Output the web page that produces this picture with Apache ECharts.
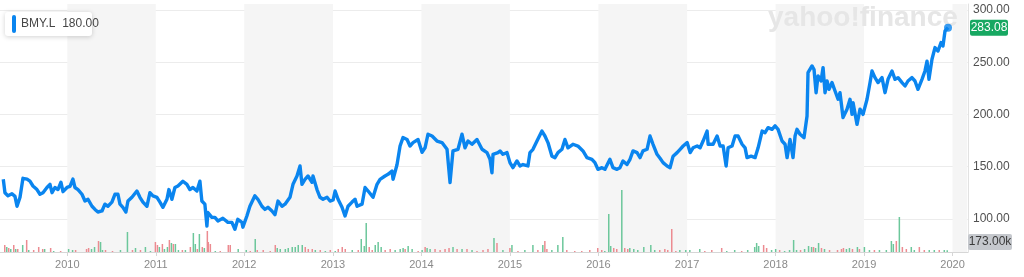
<!DOCTYPE html>
<html>
<head>
<meta charset="utf-8">
<script src="https://cdn.jsdelivr.net/npm/echarts@6/dist/echarts.min.js"></script>
<style>html,body{margin:0;padding:0;background:#fff}#c{width:1024px;height:277px}</style>
</head>
<body>
<div id="c"></div>
<script>
// ---- DATA ----
const ticker = 'BMY.L';
const legendValue = '180.00';
const lastPriceLabel = '283.08';
const lastVolumeLabel = '173.00k';
const priceTicks = [100, 150, 200, 250, 300];
const shadedYears = [2010, 2012, 2014, 2016, 2018, 2020];

// observation times as decimal years
const priceYears = [
2009.285,2009.304,2009.338,2009.383,2009.417,2009.440,2009.474,2009.507,2009.553,2009.586,
2009.620,2009.665,2009.699,2009.733,2009.778,2009.812,2009.835,2009.868,2009.902,2009.936,
2009.959,2010.004,2010.038,2010.071,2010.094,2010.128,2010.173,2010.207,2010.241,2010.286,
2010.320,2010.353,2010.399,2010.432,2010.466,2010.511,2010.545,2010.579,2010.602,2010.635,
2010.669,2010.692,2010.737,2010.793,2010.827,2010.861,2010.906,2010.940,2010.974,2011.019,
2011.053,2011.087,2011.132,2011.154,2011.188,2011.222,2011.256,2011.312,2011.357,2011.391,
2011.425,2011.470,2011.504,2011.526,2011.560,2011.583,2011.594,2011.639,2011.673,2011.707,
2011.763,2011.820,2011.865,2011.899,2011.932,2011.978,2011.989,2012.034,2012.068,2012.124,
2012.158,2012.203,2012.237,2012.271,2012.316,2012.350,2012.384,2012.429,2012.463,2012.519,
2012.553,2012.598,2012.632,2012.654,2012.688,2012.722,2012.767,2012.778,2012.823,2012.857,
2012.891,2012.936,2012.970,2013.004,2013.027,2013.060,2013.105,2013.139,2013.173,2013.218,
2013.252,2013.275,2013.331,2013.365,2013.399,2013.455,2013.500,2013.534,2013.590,2013.624,
2013.669,2013.681,2013.726,2013.760,2013.793,2013.839,2013.872,2013.906,2013.963,2014.008,
2014.042,2014.075,2014.121,2014.177,2014.233,2014.290,2014.324,2014.357,2014.414,2014.459,
2014.493,2014.527,2014.572,2014.628,2014.685,2014.741,2014.775,2014.797,2014.809,2014.865,
2014.888,2014.921,2014.967,2015.000,2015.034,2015.079,2015.113,2015.147,2015.203,2015.226,
2015.260,2015.305,2015.361,2015.395,2015.429,2015.474,2015.508,2015.542,2015.587,2015.621,
2015.655,2015.711,2015.767,2015.824,2015.869,2015.925,2015.959,2015.993,2016.038,2016.072,
2016.128,2016.162,2016.207,2016.241,2016.275,2016.320,2016.354,2016.388,2016.433,2016.467,
2016.500,2016.546,2016.579,2016.613,2016.658,2016.692,2016.726,2016.771,2016.805,2016.839,
2016.884,2016.918,2016.952,2016.997,2017.031,2017.064,2017.110,2017.143,2017.177,2017.222,
2017.234,2017.290,2017.335,2017.369,2017.403,2017.437,2017.459,2017.504,2017.538,2017.572,
2017.617,2017.651,2017.673,2017.719,2017.764,2017.798,2017.843,2017.876,2017.910,2017.955,
2017.989,2018.023,2018.068,2018.102,2018.125,2018.158,2018.192,2018.215,2018.237,2018.271,
2018.316,2018.350,2018.361,2018.406,2018.429,2018.452,2018.474,2018.508,2018.531,2018.553,
2018.576,2018.598,2018.632,2018.666,2018.700,2018.722,2018.756,2018.801,2018.835,2018.858,
2018.869,2018.914,2018.948,2018.982,2019.027,2019.061,2019.083,2019.117,2019.151,2019.196,
2019.230,2019.264,2019.309,2019.343,2019.377,2019.422,2019.456,2019.489,2019.534,2019.568,
2019.602,2019.647,2019.681,2019.704,2019.726,2019.760,2019.794,2019.828,2019.862,2019.884,
2019.907,2019.941
];
const priceValues = [
137.8,125,122,124,121.5,112,120.6,138.8,138,136,
131.4,128,123.5,125,130,133,125,130,128,135,
126,130,131,138,130,128,123.5,117,118.7,112,
109,106.5,107.5,114,112,116,123.5,123.5,114,111,
106.5,117,120.6,126.6,120.6,116,112,125,122,120.6,
116,111,118.7,128,118.7,130,131.4,136,133,128,
130,126.6,136,117,114,93,106,101.4,101.4,98,
100.5,96.6,96.6,90,99.5,96.6,92,102.7,112,122,
118.7,112,109,111,107.5,104,117,112,114,120.6,
133,141,150.6,133,137.8,141,135,141,128,120.6,
118.7,120.6,117,118,126.6,118.7,111,102.7,112,116,
118.7,112,114,130,126.6,120.6,133,137.8,141,142.6,
145.8,137.8,152,169.7,177.8,176,169.7,173,176,163.7,
168,181,179.3,174.5,173,166.6,134.7,165,166.6,181,
168,174.5,171.4,176,166.6,163.4,157,144,161.8,163.4,
165,161.8,163.4,153.8,149,155.4,150.6,152,150.6,163.4,
166.6,174.5,184,179.3,173,160,158.6,163.4,166.6,176,
168,171.4,169.7,165,158.6,157,153.8,147.4,149,147.4,
157,149,147.4,149,155.4,152,157,165,163.4,158.6,
165,166.6,179.3,171.4,161.8,158,153.8,150.6,149,160,
163.4,166.6,169.7,173,163.4,168,169.7,168,174.5,184,
171.4,171.4,179.3,169.7,169.7,150.6,168,169.7,179.3,179.3,
171.4,168,158.6,160,158.6,168,184,182.5,187.3,185.7,
189,185.7,174.5,171.4,158.6,176,158.6,179.3,185.7,181,
177.8,198.5,240,246.4,243,220.8,236.8,232,244.8,220.8,
232,224,230.5,222.4,214.5,220.8,197,205,214.5,200,
211.3,190.5,205,200,214.5,230.5,241.6,235.2,230.5,235.2,
220.8,233.6,241.6,233.6,235.2,230.5,227.2,232,235.2,232,
224,233.6,241.6,251,233.6,252.8,264,260.7,268.8,265.5,
279.9,283.08
];

// volume (thousands), with direction 1 = up (green), 0 = down (red)
const volumeYears = [
2009.293,2009.316,2009.338,2009.361,2009.395,2009.417,2009.440,2009.496,2009.541,2009.564,
2009.620,2009.677,2009.722,2009.744,2009.812,2009.846,2009.925,2010.015,2010.060,2010.094,
2010.218,2010.241,2010.274,2010.308,2010.353,2010.376,2010.398,2010.432,2010.511,2010.601,
2010.680,2010.737,2010.771,2010.827,2010.883,2010.940,2010.996,2011.019,2011.041,2011.075,
2011.098,2011.132,2011.154,2011.177,2011.199,2011.222,2011.256,2011.301,2011.335,2011.391,
2011.425,2011.447,2011.470,2011.493,2011.526,2011.549,2011.583,2011.594,2011.617,2011.673,
2011.729,2011.820,2011.842,2011.932,2012.023,2012.068,2012.124,2012.147,2012.214,2012.293,
2012.350,2012.372,2012.406,2012.463,2012.496,2012.541,2012.575,2012.609,2012.654,2012.688,
2012.722,2012.767,2012.801,2012.857,2012.914,2012.970,2013.026,2013.060,2013.105,2013.139,
2013.218,2013.286,2013.320,2013.354,2013.376,2013.410,2013.444,2013.478,2013.511,2013.545,
2013.590,2013.647,2013.703,2013.760,2013.793,2013.816,2013.850,2013.895,2013.963,2014.008,
2014.042,2014.064,2014.098,2014.154,2014.211,2014.267,2014.312,2014.357,2014.403,2014.459,
2014.515,2014.572,2014.628,2014.696,2014.752,2014.820,2014.854,2014.921,2015.000,2015.023,
2015.091,2015.169,2015.260,2015.316,2015.372,2015.395,2015.418,2015.474,2015.542,2015.598,
2015.643,2015.733,2015.812,2015.903,2015.993,2016.038,2016.072,2016.117,2016.139,2016.173,
2016.207,2016.264,2016.297,2016.331,2016.354,2016.399,2016.444,2016.512,2016.591,2016.635,
2016.692,2016.749,2016.782,2016.827,2016.873,2016.918,2016.985,2017.031,2017.143,2017.200,
2017.279,2017.391,2017.448,2017.538,2017.617,2017.685,2017.764,2017.786,2017.809,2017.865,
2017.899,2017.955,2018.001,2018.046,2018.102,2018.158,2018.204,2018.237,2018.282,2018.328,
2018.373,2018.407,2018.429,2018.452,2018.486,2018.519,2018.553,2018.610,2018.700,2018.745,
2018.767,2018.801,2018.835,2018.869,2018.925,2018.948,2019.004,2019.061,2019.117,2019.174,
2019.252,2019.309,2019.331,2019.365,2019.399,2019.433,2019.478,2019.534,2019.568,2019.625,
2019.681,2019.737,2019.794,2019.850,2019.907,2019.940
];
const volumeValues = [
700,500,400,300,700,300,300,700,1200,200,
200,500,300,300,400,100,100,300,200,200,
300,400,300,500,1100,1000,200,200,100,200,
2000,200,400,200,500,100,1000,700,500,800,
300,500,1200,900,800,800,200,200,200,500,
1900,800,300,1800,500,400,2100,1000,800,100,
100,700,700,300,200,100,1300,200,200,100,
700,400,300,300,400,500,500,700,700,500,
300,300,200,200,100,200,100,300,500,300,
200,200,1300,600,2900,500,200,700,1000,500,
200,300,200,300,400,300,600,300,100,200,
500,400,300,300,200,300,400,500,300,300,
300,200,100,200,300,1400,900,200,400,700,
100,200,700,200,700,1100,300,200,700,1500,
200,100,100,200,400,200,100,3800,600,400,
300,6200,400,300,400,300,200,500,700,200,
200,300,200,2300,100,200,200,200,300,100,
200,400,100,200,100,200,500,900,600,700,
400,200,300,200,100,200,1200,200,200,300,
600,500,500,400,900,400,300,200,200,300,
400,300,400,300,500,300,500,200,200,200,
200,1100,800,1100,3500,500,300,500,200,500,
200,200,200,200,200,173
];
const volumeUp = [
0,1,0,1,0,1,0,1,0,1,
0,0,0,1,0,1,0,1,1,0,
0,0,1,1,0,1,1,0,0,1,
1,0,1,0,1,1,0,0,1,0,
1,1,0,1,0,1,1,0,1,0,
1,1,0,1,0,1,0,0,0,1,
0,0,0,1,1,0,1,0,0,0,
0,1,1,1,1,1,1,1,1,0,
0,0,1,0,1,0,1,0,0,0,
1,0,1,1,1,0,0,1,1,1,
0,0,1,1,1,0,1,1,0,1,
0,1,1,0,0,0,0,1,0,1,
0,1,0,0,0,1,0,1,0,1,
0,1,1,0,1,0,0,1,1,1,
0,0,0,0,0,0,1,1,1,0,
0,1,0,0,1,1,1,1,1,1,
0,0,0,0,0,1,1,1,1,0,
0,0,1,1,0,1,1,1,1,0,
0,1,1,0,1,1,1,1,0,1,
1,1,0,1,1,0,1,0,0,0,
0,1,1,0,1,0,1,1,0,1,
1,1,1,0,1,0,0,1,1,0,
0,1,1,0,1,1
];

// ---- helpers ----
function yrToTs(y) {
  const Y = Math.floor(y);
  const a = Date.UTC(Y, 0, 1), b = Date.UTC(Y + 1, 0, 1);
  return a + (y - Y) * (b - a);
}
const xMin = yrToTs(2009.248);
const xMax = yrToTs(2020.166);
const priceData = priceYears.map((y, i) => [yrToTs(y), priceValues[i]]);
const volData = volumeYears.map((y, i) => ({
  value: [yrToTs(y), volumeValues[i]],
  itemStyle: { color: volumeUp[i] ? '#6cc79b' : '#ec8b91' }
}));
const shadeAreas = shadedYears.map(y => [
  { xAxis: Date.UTC(y, 0, 1) },
  { xAxis: Math.min(Date.UTC(y + 1, 0, 1), xMax) }
]);
const last = priceData[priceData.length - 1];

const FONT = '"Liberation Sans", Arial, sans-serif';
const chart = echarts.init(document.getElementById('c'), null, { renderer: 'canvas' });
const YEAR = 365.25 * 86400000;

const option = {
  useUTC: true,
  animation: false,
  grid: [
    { left: 0, right: 56, top: 4, bottom: 25 },
    { left: 0, right: 56, top: 10, height: 261 }
  ],
  xAxis: [
    {
      type: 'time', gridIndex: 0, min: xMin, max: xMax,
      minInterval: YEAR * 0.99, maxInterval: YEAR * 1.01,
      axisLine: { show: true, lineStyle: { color: '#d6d6d6' } },
      axisTick: { show: true, length: 4, lineStyle: { color: '#d6d6d6' } },
      axisLabel: {
        color: '#8a8a8a', fontSize: 11, fontFamily: FONT, margin: 7,
        formatter: v => String(new Date(v).getUTCFullYear())
      },
      splitLine: { show: false }
    },
    {
      type: 'time', gridIndex: 1, min: xMin, max: xMax, show: false,
      splitLine: { show: false }
    }
  ],
  yAxis: [
    {
      type: 'value', gridIndex: 0, position: 'right', min: 0, max: 24800,
      axisLine: { show: true, lineStyle: { color: '#e2e2e2' } },
      axisTick: { show: false }, axisLabel: { show: false }, splitLine: { show: false }
    },
    {
      type: 'value', gridIndex: 1, position: 'right', min: 50, max: 300, interval: 50,
      axisLine: { show: false }, axisTick: { show: false },
      axisLabel: {
        color: '#505050', fontSize: 12, fontFamily: FONT, margin: 5,
        formatter: v => (v < priceTicks[0] ? '' : v.toFixed(2))
      },
      splitLine: { show: true, showMinLine: false, lineStyle: { color: '#ececec', width: 1 } }
    }
  ],
  series: [
    {
      type: 'bar', xAxisIndex: 0, yAxisIndex: 0, data: volData, barWidth: 1.5, z: 2,
      markArea: {
        silent: true, itemStyle: { color: '#f5f5f5' }, label: { show: false },
        data: shadeAreas
      }
    },
    {
      type: 'line', xAxisIndex: 1, yAxisIndex: 1, data: priceData, z: 4,
      showSymbol: false, symbol: 'none', clip: false,
      lineStyle: { color: '#0a85ef', width: 3.4, join: 'round' }
    },
    {
      type: 'scatter', xAxisIndex: 1, yAxisIndex: 1, data: [last], z: 5,
      symbolSize: 8, itemStyle: { color: '#0a85ef' }
    }
  ]
};
chart.setOption(option);

const py = chart.convertToPixel({ yAxisIndex: 1 }, last[1]);
chart.setOption({
  graphic: [
    {
      type: 'text', z: 1, silent: true, left: 768, top: 4,
      style: { text: 'yahoo!finance', fill: '#e6e6e6', font: 'bold 28px ' + FONT }
    },
    { type: 'rect', z: 20, shape: { x: 5, y: 12, width: 87, height: 24, r: 3 },
      style: { fill: '#fff', shadowBlur: 5, shadowColor: 'rgba(0,0,0,0.18)', shadowOffsetY: 1 } },
    { type: 'rect', z: 21, shape: { x: 12, y: 15, width: 4, height: 18, r: 2 }, style: { fill: '#0a85ef' } },
    { type: 'text', z: 21, x: 21, y: 24, style: { text: ticker + '  ' + legendValue, fill: '#464646',
        font: '12px ' + FONT, verticalAlign: 'middle' } },
    { type: 'rect', z: 21, shape: { x: 970, y: py - 8, width: 38, height: 16, r: 2 }, style: { fill: '#17a862' } },
    { type: 'text', z: 22, x: 989, y: py, style: { text: lastPriceLabel, fill: '#fff', font: '12px ' + FONT,
        align: 'center', verticalAlign: 'middle' } },
    { type: 'rect', z: 21, shape: { x: 968, y: 234, width: 44, height: 16, r: 2 }, style: { fill: '#c5c8cd' } },
    { type: 'text', z: 22, x: 990, y: 242, style: { text: lastVolumeLabel, fill: '#3a3a3a', font: '12px ' + FONT,
        align: 'center', verticalAlign: 'middle' } }
  ]
});
</script>
</body>
</html>
